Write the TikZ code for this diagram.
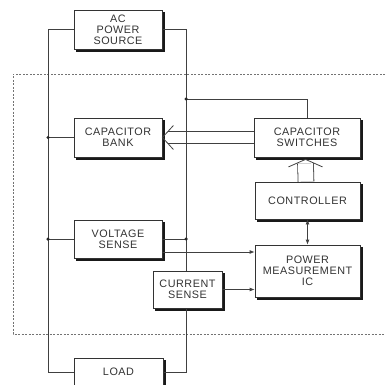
\documentclass[tikz,border=0pt]{standalone}
\usepackage{fontspec}
\setmainfont{Liberation Sans}
\newfontfamily\labelfont[LetterSpace=5]{Liberation Sans}
\usetikzlibrary{arrows.meta,backgrounds,calc}

\tikzset{
  block/.style={draw=black!80, line width=0.8pt, fill=white, align=center,
    font=\labelfont\fontsize{10.8}{10.8}\selectfont, text=black!80, inner sep=0pt},
  wire/.style={draw=black!75, line width=0.8pt},
  sig/.style={wire, -{Latex[length=5pt,width=4pt]}},
  hollow/.style={draw=black!75, line width=0.8pt, double=white, double distance=#1},
  chevron/.style={draw=black!75, line width=0.8pt, line join=miter},
  dot/.style={circle, fill=black!85, inner sep=0pt, minimum size=3.5pt},
}

\begin{document}
\begin{tikzpicture}[x=1pt, y=1pt]
    \useasboundingbox (0,0) rectangle (385,-385);

    % AC source and load
    \node[block, minimum width=88pt, minimum height=39pt] (src) at (118,-29.5) {AC\\POWER\\SOURCE};
    \node[block, minimum width=89pt, minimum height=28pt] (load) at (118.5,-372) {LOAD};

    % left column
    \node[block, minimum width=88pt, minimum height=39pt] (bank) at (118,-137.5) {CAPACITOR\\BANK};
    \node[block, minimum width=88pt, minimum height=38pt] (vsense) at (118,-239) {VOLTAGE\\SENSE};
    \node[block, minimum width=69pt, minimum height=37pt] (isense) at (187.5,-289.5) {CURRENT\\SENSE};

    % right column
    \node[block, minimum width=106pt, minimum height=39pt] (switches) at (307,-137.5) {CAPACITOR\\SWITCHES};
    \node[block, minimum width=105pt, minimum height=37pt] (ctrl) at (307.5,-200.5) {CONTROLLER};
    \node[block, minimum width=105pt, minimum height=52pt] (pmic) at (307.5,-271) {POWER\\MEASUREMENT\\IC};

    \begin{scope}[on background layer]
        % shadows
        \foreach \b in {src,load,bank,vsense,isense,switches,ctrl,pmic}
            \fill[black!90] ($(\b.south west)+(2.5,-2.5)$) rectangle ($(\b.north east)+(2.5,-2.5)$);

        % monitored region
        \draw[black!55, line width=0.8pt, dash pattern=on 2pt off 1.5pt] (392,-74) -| (13,-334) -- (392,-334);

        % supply rails
        \coordinate (railL) at (48,0);
        \coordinate (railR) at (186,0);
        \draw[wire] (src.west) -| (railL |- load.west) -- (load.west);
        \draw[wire] (src.east) -| (railR |- load.east) -- (load.east);
    \end{scope}

    % switching commands
    \draw[hollow=11pt] (switches.west) -- ([xshift=6pt]bank.east);
    \draw[chevron] ([xshift=11pt, yshift=12pt]bank.east) -- (bank.east) -- ([xshift=11pt, yshift=-12pt]bank.east);
    \draw[wire] (railR |- bank.east) ++(0,12) -- ++(0,-24);
    \draw[hollow=15pt] ([xshift=-1.5pt]ctrl.north) -- ([xshift=-1.5pt, yshift=-6pt]switches.south);
    \draw[chevron] ([xshift=-18.5pt, yshift=-9.5pt]switches.south) -- ([xshift=-1.5pt, yshift=-2pt]switches.south) -- ([xshift=15.5pt, yshift=-9.5pt]switches.south);

    % taps on the rails
    \draw[wire] (bank.west) -- (railL |- bank.west) node[dot] {};
    \draw[wire] (vsense.west) -- (railL |- vsense.west) node[dot] {};
    \draw[wire] (vsense.east) -- (railR |- vsense.east) node[dot] {};
    \coordinate (tap) at (186,-99);
    \draw[wire] (switches.north) |- (tap) node[dot] {};

    % measurement signals
    \draw[sig] ([yshift=-13pt]vsense.east) coordinate (vout) -- (vout -| pmic.west);
    \draw[sig] (isense.east) -- (isense.east -| pmic.west);
    \draw[wire, {Latex[length=5pt,width=4pt]}-{Latex[length=5pt,width=4pt]}] (ctrl.south) -- (pmic.north);
\end{tikzpicture}
\end{document}
